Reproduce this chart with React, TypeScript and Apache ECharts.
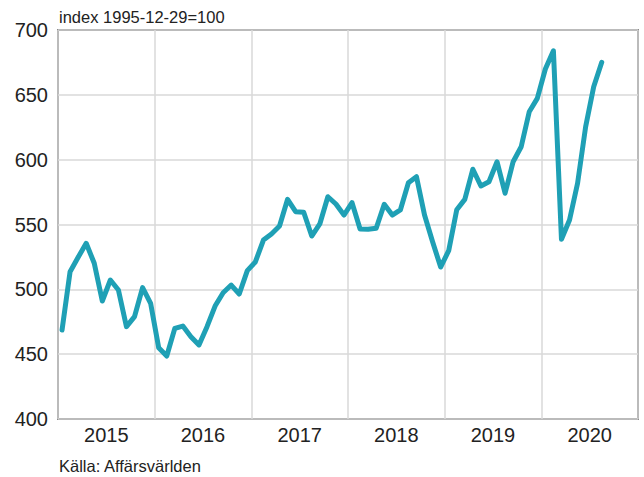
import React, { useEffect, useRef } from "react";
import * as echarts from "echarts";

const startYear = 2015;
const yearLabels = ["2015", "2016", "2017", "2018", "2019", "2020"];
const yTicks = { min: 400, max: 700, interval: 50 };
// Monthly index values, Jan 2015 .. Aug 2020
const indexValues = [
  468.6, 513.6, 524.7, 535.5, 520.1, 491.0, 507.2, 499.5, 471.2, 478.9, 501.3, 489.2,
  455.0, 448.6, 469.9, 471.7, 463.5, 457.1, 471.2, 487.1, 497.4, 503.3, 496.4, 514.4,
  521.1, 538.0, 542.7, 548.8, 569.4, 559.9, 559.4, 541.1, 550.4, 571.4, 565.8, 557.3,
  566.8, 546.5, 546.3, 547.1, 565.6, 557.3, 561.2, 582.2, 586.9, 557.3, 536.7, 517.2,
  529.8, 561.4, 569.4, 592.6, 579.7, 583.0, 598.4, 574.1, 598.4, 610.0, 637.0, 647.3,
  669.9, 684.0, 538.6, 553.5, 581.8, 625.4, 656.3, 675.1,
];
const titleText = "index 1995-12-29=100";
const sourceText = "Källa: Affärsvärlden";

const FONT = "'Liberation Sans', Arial, Helvetica, sans-serif";

export default function App() {
  const ref = useRef<HTMLDivElement>(null);
  useEffect(() => {
    document.body.style.margin = "0";
    if (!ref.current) return;
    const chart = echarts.init(ref.current, null, { renderer: "svg" });
    // month index -> fractional year at mid-month
    const seriesData = indexValues.map((v, i) => [startYear + (i + 0.5) / 12, v]);
    chart.setOption({
      animation: false,
      backgroundColor: "#ffffff",
      textStyle: { fontFamily: FONT },
      grid: {
        left: 58,
        right: 6,
        top: 30,
        bottom: 58,
        show: true,
        borderColor: "#333333",
        borderWidth: 1.5,
        backgroundColor: "#ffffff",
      },
      xAxis: [
        {
          type: "value",
          min: startYear,
          max: startYear + yearLabels.length,
          interval: 1,
          axisLine: { show: false },
          axisTick: { show: false },
          axisLabel: { show: false },
          splitLine: { show: true, lineStyle: { color: "#d9d9d9", width: 1.5 } },
        },
        {
          type: "category",
          data: yearLabels,
          position: "bottom",
          boundaryGap: true,
          axisLine: { show: false },
          axisTick: { show: false },
          splitLine: { show: false },
          axisLabel: {
            show: true,
            fontSize: 20,
            color: "#222222",
            fontFamily: FONT,
            margin: 6,
          },
        },
      ],
      yAxis: {
        type: "value",
        min: yTicks.min,
        max: yTicks.max,
        interval: yTicks.interval,
        axisLine: { show: false },
        axisTick: { show: false },
        axisLabel: { fontSize: 20, color: "#222222", fontFamily: FONT, margin: 10 },
        splitLine: { show: true, lineStyle: { color: "#d9d9d9", width: 1.5 } },
      },
      graphic: [
        {
          type: "text",
          left: 59,
          top: 8,
          style: { text: titleText, fontSize: 16.5, fontFamily: FONT, fill: "#222222" },
        },
        {
          type: "text",
          left: 59,
          top: 457,
          style: { text: sourceText, fontSize: 16.5, fontFamily: FONT, fill: "#222222" },
        },
      ],
      series: [
        {
          type: "line",
          xAxisIndex: 0,
          data: seriesData,
          showSymbol: false,
          symbol: "none",
          lineStyle: { color: "#1fa0b5", width: 5, join: "round", cap: "round" },
          z: 3,
        },
      ],
    });
    return () => chart.dispose();
  }, []);
  return (
    <div
      ref={ref}
      style={{ width: 644, height: 477, position: "absolute", left: 0, top: 0 }}
    />
  );
}
